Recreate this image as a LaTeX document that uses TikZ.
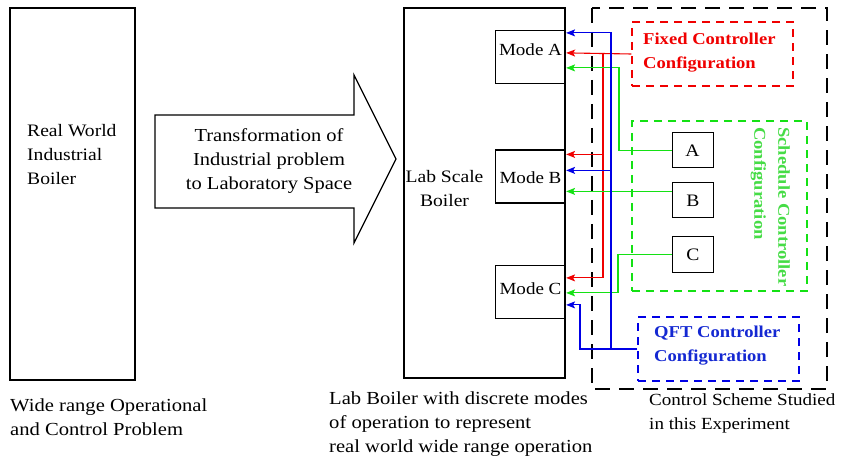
\documentclass[tikz,border=0pt]{standalone}
\usepackage{fontspec}
\setmainfont{Liberation Serif}[FakeStretch=1.12]
\usetikzlibrary{arrows.meta}
\definecolor{cred}{RGB}{240,0,0}
\definecolor{cgreen}{RGB}{20,225,20}
\definecolor{cgtext}{RGB}{70,220,70}
\definecolor{cblue}{RGB}{0,0,230}
\definecolor{cbtext}{RGB}{20,40,210}
\tikzset{
  txt/.style={font=\fontsize{17.5}{24}\selectfont, align=left, inner sep=0pt},
  captxt/.style={font=\fontsize{18.4}{24}\selectfont, align=left, inner sep=0pt},
  modetxt/.style={font=\fontsize{17}{24}\selectfont, inner sep=0pt},
  plainbox/.style={draw=black, line width=1.2pt, inner sep=0pt},
  modebox/.style={plainbox, minimum width=70pt, minimum height=53pt},
  schedbox/.style={plainbox, line width=1pt, minimum width=41pt, minimum height=35pt},
  tip/.style={-{Stealth[length=9pt,width=7pt,inset=2pt]}, line width=1.1pt},
  redline/.style={tip, draw=cred},
  greenline/.style={tip, draw=cgreen},
  blueline/.style={tip, draw=cblue},
  groupbox/.style={dash pattern=on 8pt off 6pt, line width=1.2pt, inner sep=0pt},
  ctrltxt/.style={font=\bfseries\fontsize{16.6}{24}\selectfont, align=left, inner sep=0pt}
}
\begin{document}
\begin{tikzpicture}[x=1pt, y=-1pt]
\useasboundingbox (0,0) rectangle (845,462);

% real world boiler
\node[plainbox, minimum width=125pt, minimum height=372pt] (real) at (72.5,194) {};
\node[txt, anchor=west] (realtxt) at (27,155) {Real World\\Industrial\\Boiler};

% transformation block arrow
\draw[line width=1.2pt, line join=miter]
  (155,115) -- (354,115) -- (354,75) -- (396,159) -- (354,243) -- (354,208) -- (155,208) -- cycle;
\node[txt, align=center, font=\fontsize{18.3}{24}\selectfont] (transtxt) at (269,161)
  {Transformation of\\Industrial problem\\to Laboratory Space};

% lab scale boiler with its modes
\node[plainbox, minimum width=161pt, minimum height=370pt] (lab) at (484.5,193) {};
\node[txt, align=center] (labtxt) at (444.5,189) {Lab Scale\\Boiler};
\node[modebox, label={[modetxt, yshift=7pt]center:Mode A}] (modeA) at (530.5,57) {};
\node[modebox, label={[modetxt, yshift=-1pt]center:Mode B}] (modeB) at (530.5,176.5) {};
\node[modebox, label={[modetxt, yshift=3pt]center:Mode C}] (modeC) at (530.5,292) {};

% control scheme frame
\draw[dash pattern=on 15pt off 9pt, line width=1.7pt] (592,8) rectangle (827,389);

% fixed controller
\node[groupbox, draw=cred, minimum width=161pt, minimum height=64pt] (fixed) at (712.5,54) {};
\node[ctrltxt, text=cred, anchor=west] (fixedtxt) at (643,53) {Fixed Controller\\Configuration};

% schedule controller
\node[groupbox, draw=cgreen, minimum width=175pt, minimum height=170pt] (sched) at (719.5,206) {};
\node[schedbox] (sA) at (692.5,150.5) {\fontsize{17.5}{20}\selectfont A};
\node[schedbox] (sB) at (693,200.5) {\fontsize{17.5}{20}\selectfont B};
\node[schedbox] (sC) at (693,254.5) {\fontsize{17.5}{20}\selectfont C};
\node[ctrltxt, text=cgtext, rotate=-90, anchor=north west] (schedtxt) at (790,127)
  {Schedule Controller\\Configuration};

% QFT controller
\node[groupbox, draw=cblue, minimum width=161pt, minimum height=64pt] (qft) at (718.5,349) {};
\node[ctrltxt, text=cbtext, anchor=west] (qfttxt) at (654,346) {QFT Controller\\Configuration};

% arrow end points on the modes
\coordinate (bA) at ([yshift=-3pt]modeA.north east);
\coordinate (rA) at ([yshift=-23pt]modeA.north east);
\coordinate (gA) at ([yshift=-38pt]modeA.north east);
\coordinate (rB) at ([yshift=-5pt]modeB.north east);
\coordinate (bB) at ([yshift=-21pt]modeB.north east);
\coordinate (gB) at ([yshift=-42pt]modeB.north east);
\coordinate (rC) at ([yshift=-13pt]modeC.north east);
\coordinate (gC) at ([yshift=-28pt]modeC.north east);
\coordinate (bC) at ([yshift=-40pt]modeC.north east);
\coordinate (rT) at (603,0);
\coordinate (bT) at (611,0);
\coordinate (bL) at (580,0);
\coordinate (gT1) at (619,0);
\coordinate (gT3) at (618,0);

% fixed controller lines
\draw[redline] (fixed.west) -- (rA);
\draw[redline] (rT |- rA) |- (rB);
\draw[redline] (rT |- rB) |- (rC);

% schedule controller lines
\draw[greenline] (sA.west) -- (sA.west -| gT1) |- (gA);
\draw[greenline] (sB.west |- gB) -- (gB);
\draw[greenline] (sC.west) -- (sC.west -| gT3) |- (gC);

% QFT controller lines
\draw[blueline] (qft.west) -- (qft.west -| bT) |- (bA);
\draw[blueline] (bT |- bB) -- (bB);
\draw[blueline] (qft.west -| bT) -- (qft.west -| bL) |- (bC);

% captions
\node[captxt, anchor=north west] (cap1) at (10,399) {Wide range Operational\\and Control Problem};
\node[captxt, anchor=north west] (cap2) at (329,392) {Lab Boiler with discrete modes\\of operation to represent\\real world wide range operation};
\node[captxt, anchor=north west, font=\fontsize{17}{24}\selectfont] (cap3) at (649,394) {Control Scheme Studied\\in this Experiment};
\end{tikzpicture}
\end{document}
